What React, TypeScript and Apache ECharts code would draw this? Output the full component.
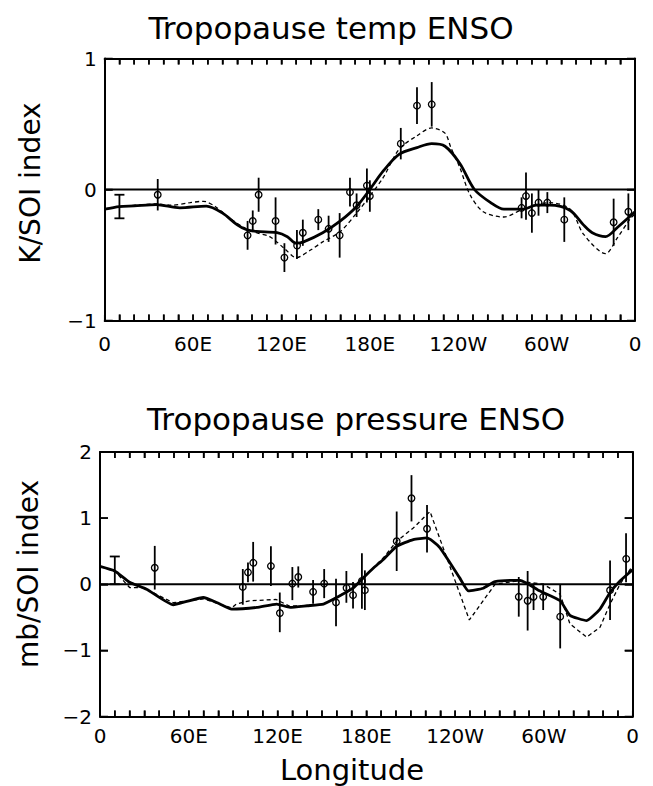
import React, { useEffect, useRef } from "react";
import * as echarts from "echarts";

// ---------- data ----------
const xTickLabels = ["0", "60E", "120E", "180E", "120W", "60W", "0"];
const lonTicks = [0, 10, 20, 30, 40, 50, 60, 70, 80, 90, 100, 110, 120, 130, 140, 150, 160, 170, 180,
  190, 200, 210, 220, 230, 240, 250, 260, 270, 280, 290, 300, 310, 320, 330, 340, 350, 360];
const tempYTicks = [-1, 0, 1];
const presYTicks = [-2, -1, 0, 1, 2];

const tempSolid: [number, number][] = [
  [0, -0.15], [10, -0.13], [20, -0.125], [35, -0.115], [51, -0.14], [69, -0.127],
  [80, -0.18], [90, -0.27], [96, -0.305], [103, -0.32], [117, -0.33], [124, -0.36],
  [130, -0.41], [135, -0.4], [148, -0.33], [160, -0.24], [171, -0.13], [180, 0.0],
  [189, 0.14], [200, 0.27], [212, 0.32], [222, 0.35], [231, 0.33], [241, 0.2],
  [251, 0.0], [262, -0.1], [271, -0.15], [284, -0.15], [293, -0.12], [302, -0.12],
  [316, -0.16], [325, -0.27], [331, -0.33], [340, -0.36], [348, -0.29], [360, -0.17],
];

const tempDashed: [number, number][] = [
  [0, -0.15], [10, -0.13], [20, -0.12], [35, -0.11], [45, -0.12], [58, -0.1],
  [67, -0.09], [75, -0.13], [85, -0.22], [96, -0.3], [103, -0.33], [112, -0.36],
  [122, -0.45], [130, -0.52], [140, -0.46], [148, -0.4], [160, -0.32], [171, -0.18],
  [180, -0.05], [189, 0.09], [200, 0.31], [212, 0.41], [222, 0.47], [231, 0.43],
  [235, 0.32], [241, 0.17], [248, -0.04], [257, -0.17], [271, -0.21], [284, -0.15],
  [302, -0.1], [316, -0.15], [325, -0.34], [340, -0.49], [348, -0.37], [357, -0.22],
  [360, -0.19],
];

// [longitude, value, error]
const tempObs: [number, number, number][] = [
  [36, -0.04, 0.12], [97, -0.35, 0.11], [100.5, -0.24, 0.08], [104.5, -0.04, 0.13],
  [116, -0.24, 0.18], [122, -0.52, 0.11], [130.5, -0.42, 0.11], [134.5, -0.33, 0.1],
  [145, -0.23, 0.08], [152, -0.3, 0.1], [159.5, -0.35, 0.17], [166.5, -0.02, 0.11],
  [171, -0.12, 0.09], [178, 0.03, 0.13], [180, -0.05, 0.12], [201, 0.35, 0.12],
  [212, 0.64, 0.14], [222, 0.65, 0.17], [283, -0.14, 0.08], [286, -0.05, 0.18],
  [290, -0.18, 0.15], [294.5, -0.1, 0.1], [300.5, -0.1, 0.08], [312, -0.23, 0.17],
  [345.5, -0.25, 0.18], [355.5, -0.17, 0.14],
];
const tempTypicalErr: [number, number, number][] = [[10, -0.13, 0.09]];

const presSolid: [number, number][] = [
  [0, 0.27], [10, 0.2], [20, 0.03], [31.5, -0.075], [49.5, -0.31], [58.6, -0.26],
  [69.8, -0.2], [78.8, -0.275], [89, -0.375], [106, -0.35], [119.4, -0.3],
  [128.4, -0.35], [140, -0.325], [151, -0.3], [160, -0.2], [171, -0.06], [178, 0.1],
  [185, 0.25], [191.5, 0.375], [200.5, 0.575], [211.7, 0.675], [220.8, 0.7],
  [225, 0.65], [229.8, 0.55], [236.5, 0.325], [243, 0.1], [249, -0.1], [259, -0.06],
  [267, 0.04], [284, 0.06], [297, -0.1], [311, -0.25], [317.6, -0.47], [328.9, -0.55],
  [337.9, -0.375], [344.7, -0.125], [351.4, 0.05], [360, 0.22],
];

const presDashed: [number, number][] = [
  [0, 0.27], [10, 0.2], [20, -0.05], [29, -0.05], [49.5, -0.28], [70, -0.22],
  [89, -0.36], [92, -0.3], [101, -0.25], [119, -0.23], [128, -0.33], [140, -0.325],
  [151, -0.3], [160, -0.2], [171, -0.05], [178, 0.1], [191.5, 0.4], [200.5, 0.65],
  [211.7, 0.85], [223, 1.1], [249.6, -0.54], [267, 0.0], [282, 0.05], [299.6, 0.0],
  [310.9, -0.15], [317.6, -0.6], [328.9, -0.8], [337.9, -0.65], [344.7, -0.3],
  [351.4, 0.0], [360, 0.28],
];

const presObs: [number, number, number][] = [
  [37, 0.25, 0.33], [96.5, -0.04, 0.27], [100, 0.18, 0.15], [103.5, 0.34, 0.3],
  [115.5, 0.275, 0.3], [121.5, -0.425, 0.3], [130, 0.01, 0.25], [134, 0.11, 0.16],
  [144, -0.115, 0.18], [151.5, 0.01, 0.22], [159.5, -0.275, 0.36], [166.5, -0.04, 0.24],
  [171, -0.165, 0.2], [177, 0.05, 0.42], [179, -0.09, 0.3], [200.5, 0.65, 0.45],
  [210.5, 1.3, 0.35], [221, 0.84, 0.36], [283, -0.19, 0.3], [289, -0.25, 0.45],
  [293, -0.19, 0.2], [299.5, -0.19, 0.2], [311, -0.49, 0.48], [344.7, -0.09, 0.45],
  [355.5, 0.4, 0.37],
];
const presTypicalErr: [number, number, number][] = [[10, 0.21, 0.21]];

const zeroLine: [number, number][] = [[0, 0], [360, 0]];

const titles = ["Tropopause temp ENSO", "Tropopause pressure ENSO"];
const yNames = ["K/SOI index", "mb/SOI index"];
const xName = "Longitude";

// ---------- helpers ----------
const FONT = "DejaVu Sans";

function frameLine() {
  return { show: true, onZero: false, lineStyle: { color: "#000", width: 2 } };
}

function xAxisPair(gridIndex: number) {
  const mk = (position: string, withLabels: boolean) => ({
    gridIndex, type: "value", min: 0, max: 360, interval: 60, position,
    axisLine: frameLine(),
    splitLine: { show: false },
    axisTick: { show: true, inside: true, length: 6, lineStyle: { color: "#000", width: 1.5 } },
    minorTick: { show: true, splitNumber: 6, length: 6, lineStyle: { color: "#000", width: 1.5 } },
    axisLabel: withLabels
      ? {
          color: "#000", fontSize: 20, fontFamily: FONT, margin: gridIndex === 0 ? 13 : 9,
          formatter: (v: number) => xTickLabels[Math.round(v / 60)] ?? "",
        }
      : { show: false },
  });
  return [mk("bottom", true), mk("top", false)];
}

function yAxisPair(gridIndex: number, lim: number) {
  const mk = (position: string, withLabels: boolean) => ({
    gridIndex, type: "value", min: -lim, max: lim, interval: 1, position,
    axisLine: frameLine(),
    splitLine: { show: false },
    axisTick: { show: true, inside: true, length: 8, lineStyle: { color: "#000", width: 1.5 } },
    axisLabel: withLabels
      ? {
          color: "#000", fontSize: 20, fontFamily: FONT, margin: 8,
          formatter: (v: number) => String(v).replace("-", "\u2212"),
        }
      : { show: false },
  });
  return [mk("left", true), mk("right", false)];
}

// Inward frame ticks along top and bottom edges, placed through the axis scale
function xFrameTicks(xi: number, yi: number, lim: number) {
  return {
    type: "custom", xAxisIndex: xi, yAxisIndex: yi, z: 10, silent: true,
    data: lonTicks.map((l) => [l, 0]),
    encode: { x: 0, y: 1 },
    renderItem: (_p: any, api: any) => {
      const lon = api.value(0);
      const b = api.coord([lon, -lim]);
      const t = api.coord([lon, lim]);
      const L = 6;
      const s = { stroke: "#000", lineWidth: 1.5 };
      return {
        type: "group",
        children: [
          { type: "line", shape: { x1: b[0], y1: b[1], x2: b[0], y2: b[1] - L }, style: s },
          { type: "line", shape: { x1: t[0], y1: t[1], x2: t[0], y2: t[1] + L }, style: s },
        ],
      };
    },
  };
}

// Inward ticks on the left and right edges at each y tick value
function yFrameTicks(xi: number, yi: number, vals: number[]) {
  return {
    type: "custom", xAxisIndex: xi, yAxisIndex: yi, z: 10, silent: true,
    data: vals.map((v) => [0, v]),
    encode: { x: 0, y: 1 },
    renderItem: (_p: any, api: any) => {
      const v = api.value(1);
      const l = api.coord([0, v]);
      const r = api.coord([360, v]);
      const L = 8;
      const s = { stroke: "#000", lineWidth: 1.5 };
      return {
        type: "group",
        children: [
          { type: "line", shape: { x1: l[0], y1: l[1], x2: l[0] + L, y2: l[1] }, style: s },
          { type: "line", shape: { x1: r[0], y1: r[1], x2: r[0] - L, y2: r[1] }, style: s },
        ],
      };
    },
  };
}

function obsSeries(data: [number, number, number][], xi: number, yi: number) {
  return {
    type: "custom", xAxisIndex: xi, yAxisIndex: yi, data, z: 5,
    encode: { x: 0, y: 1 },
    renderItem: (_p: any, api: any) => {
      const lon = api.value(0), v = api.value(1), e = api.value(2);
      const c = api.coord([lon, v]);
      const t = api.coord([lon, v + e]);
      const b = api.coord([lon, v - e]);
      return {
        type: "group",
        children: [
          { type: "line", shape: { x1: c[0], y1: t[1], x2: c[0], y2: b[1] }, style: { stroke: "#000", lineWidth: 1.8 } },
          { type: "circle", shape: { cx: c[0], cy: c[1], r: 3.3 }, style: { fill: "none", stroke: "#000", lineWidth: 1.3 } },
        ],
      };
    },
  };
}

function typicalErrSeries(data: [number, number, number][], xi: number, yi: number) {
  return {
    type: "custom", xAxisIndex: xi, yAxisIndex: yi, data, z: 5,
    encode: { x: 0, y: 1 },
    renderItem: (_p: any, api: any) => {
      const lon = api.value(0), v = api.value(1), e = api.value(2);
      const c = api.coord([lon, v]);
      const t = api.coord([lon, v + e]);
      const b = api.coord([lon, v - e]);
      const w = 5;
      const s = { stroke: "#000", lineWidth: 1.8 };
      return {
        type: "group",
        children: [
          { type: "line", shape: { x1: c[0], y1: t[1], x2: c[0], y2: b[1] }, style: s },
          { type: "line", shape: { x1: c[0] - w, y1: t[1], x2: c[0] + w, y2: t[1] }, style: s },
          { type: "line", shape: { x1: c[0] - w, y1: b[1], x2: c[0] + w, y2: b[1] }, style: s },
        ],
      };
    },
  };
}

function lineSeries(data: [number, number][], xi: number, yi: number, dashed: boolean, smooth: number | boolean) {
  return {
    type: "line", xAxisIndex: xi, yAxisIndex: yi, data, showSymbol: false, symbol: "none",
    smooth, z: dashed ? 3 : 4,
    lineStyle: dashed
      ? { color: "#000", width: 1.3, type: [4, 3] }
      : { color: "#000", width: 2.8 },
  };
}

export default function App() {
  const ref = useRef<HTMLDivElement>(null);
  useEffect(() => {
    if (!ref.current) return;
    const chart = echarts.init(ref.current, null, { renderer: "svg" });
    const xs = [...xAxisPair(0), ...xAxisPair(1)];
    const ys = [...yAxisPair(0, 1), ...yAxisPair(1, 2)];
    chart.setOption({
      animation: false,
      backgroundColor: "#fff",
      grid: [
        { left: 104.7, top: 58.5, width: 530.3, height: 262 },
        { left: 100, top: 452, width: 532.7, height: 264.5 },
      ],
      xAxis: xs,
      yAxis: ys,
      series: [
        { type: "line", xAxisIndex: 0, yAxisIndex: 0, data: zeroLine, symbol: "none", lineStyle: { color: "#000", width: 2 }, z: 2 },
        lineSeries(tempDashed, 0, 0, true, 0.3),
        lineSeries(tempSolid, 0, 0, false, 0.3),
        obsSeries(tempObs, 0, 0),
        typicalErrSeries(tempTypicalErr, 0, 0),
        xFrameTicks(0, 0, 1),
        yFrameTicks(0, 0, tempYTicks),
        { type: "line", xAxisIndex: 2, yAxisIndex: 2, data: zeroLine, symbol: "none", lineStyle: { color: "#000", width: 2 }, z: 2 },
        lineSeries(presDashed, 2, 2, true, false),
        lineSeries(presSolid, 2, 2, false, 0.15),
        obsSeries(presObs, 2, 2),
        typicalErrSeries(presTypicalErr, 2, 2),
        xFrameTicks(2, 2, 2),
        yFrameTicks(2, 2, presYTicks),
      ],
      graphic: [
        { type: "text", x: 331, y: 28, style: { text: titles[0], font: `31px '${FONT}'`, fill: "#000", textAlign: "center", textVerticalAlign: "middle" } },
        { type: "text", x: 356, y: 419, style: { text: titles[1], font: `31px '${FONT}'`, fill: "#000", textAlign: "center", textVerticalAlign: "middle" } },
        { type: "text", x: 30, y: 183, rotation: Math.PI / 2, style: { text: yNames[0], font: `28px '${FONT}'`, fill: "#000", textAlign: "center", textVerticalAlign: "middle" } },
        { type: "text", x: 28, y: 574, rotation: Math.PI / 2, style: { text: yNames[1], font: `28px '${FONT}'`, fill: "#000", textAlign: "center", textVerticalAlign: "middle" } },
        { type: "text", x: 352, y: 770, style: { text: xName, font: `29px '${FONT}'`, fill: "#000", textAlign: "center", textVerticalAlign: "middle" } },
      ],
    });
    return () => chart.dispose();
  }, []);
  return <div ref={ref} style={{ position: "absolute", left: 0, top: 0, width: 653, height: 786 }} />;
}
